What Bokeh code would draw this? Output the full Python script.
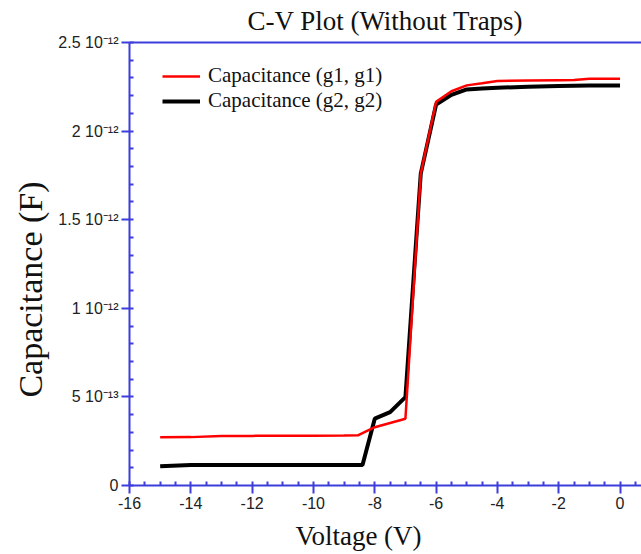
from bokeh.plotting import figure
from bokeh.models import (LinearAxis, SingleIntervalTicker, FixedTicker, CustomJSTickFormatter,
                          Legend, LegendItem, Range1d)
from bokeh.embed import file_html
from bokeh.resources import INLINE

# Data (Voltage in V, Capacitance in F)
v_g1 = [-15, -14, -13, -12, -11, -10, -9, -8.55, -8, -7.5, -7, -6.5, -6, -5.5, -5, -4.5, -4, -3, -2, -1.5, -1, 0]
c_g1 = [0.272e-12, 0.273e-12, 0.280e-12, 0.280e-12, 0.281e-12, 0.281e-12, 0.282e-12, 0.283e-12,
        0.329e-12, 0.353e-12, 0.377e-12, 1.76e-12, 2.165e-12, 2.225e-12, 2.258e-12, 2.27e-12,
        2.283e-12, 2.285e-12, 2.287e-12, 2.288e-12, 2.295e-12, 2.295e-12]

v_g2 = [-15, -14, -13, -12, -11, -10, -9, -8.4, -8, -7.5, -7, -6.5, -6, -5.5, -5, -4.5, -4, -3, -2, -1, 0]
c_g2 = [0.108e-12, 0.116e-12, 0.116e-12, 0.116e-12, 0.116e-12, 0.116e-12, 0.116e-12, 0.116e-12,
        0.377e-12, 0.414e-12, 0.499e-12, 1.76e-12, 2.15e-12, 2.205e-12, 2.235e-12, 2.24e-12,
        2.245e-12, 2.25e-12, 2.255e-12, 2.257e-12, 2.257e-12]

labels = ["Capacitance (g1, g1)", "Capacitance (g2, g2)"]
title = "C-V Plot (Without Traps)"
x_label = "Voltage (V)"
y_label = "Capacitance (F)"

AXIS = "#3d3ddb"
SERIF = "Liberation Serif"
SANS = "Liberation Sans"
NB = "\u00a0"

p = figure(width=641, height=554, output_backend="svg", toolbar_location=None,
           x_range=Range1d(-16, 0.7), y_range=Range1d(0, 2.5e-12),
           x_axis_type=None, y_axis_type=None,
           min_border_left=129, min_border_right=0, min_border_top=42, min_border_bottom=69)
p.outline_line_color = None
p.grid.visible = False
p.background_fill_color = "white"

p.title.text = title
p.title.text_font = SERIF
p.title.text_font_style = "normal"
p.title.text_font_size = "27px"
p.title.align = "center"
p.title.vertical_align = "top"
p.title.text_color = "#111111"
p.title.standoff = 10

yfmt = CustomJSTickFormatter(code="""
    if (Math.abs(tick) < 1e-20) return "0";
    const e = Math.floor(Math.log10(Math.abs(tick)) + 1e-9);
    const m = Math.round(tick / Math.pow(10, e) * 10) / 10;
    const sup = {"-":"\u207b","0":"\u2070","1":"\u00b9","2":"\u00b2","3":"\u00b3","4":"\u2074",
                 "5":"\u2075","6":"\u2076","7":"\u2077","8":"\u2078","9":"\u2079"};
    return m + " 10" + String(e).split("").map(c => sup[c]).join("");
""")
xfmt = CustomJSTickFormatter(code="return String(Math.round(tick));")

def style(ax):
    ax.axis_line_color = AXIS
    ax.axis_line_width = 2
    ax.major_tick_line_color = AXIS
    ax.minor_tick_line_color = AXIS
    ax.major_tick_line_width = 2
    ax.minor_tick_line_width = 2
    ax.major_tick_out = 8
    ax.major_tick_in = 0
    ax.minor_tick_out = 0
    ax.minor_tick_in = 4
    ax.major_label_text_font = SANS
    ax.major_label_text_font_size = "16px"
    ax.major_label_text_color = "#222222"
    ax.axis_label_text_font = SERIF
    ax.axis_label_text_font_style = "normal"
    ax.axis_label_text_color = "#111111"

xaxis = LinearAxis(ticker=SingleIntervalTicker(interval=2, num_minor_ticks=4), formatter=xfmt)
style(xaxis)
xaxis.major_label_standoff = 3
xaxis.axis_label = x_label + NB * 8
xaxis.axis_label_text_font_size = "27px"
xaxis.axis_label_standoff = 9
p.add_layout(xaxis, "below")

yaxis = LinearAxis(ticker=SingleIntervalTicker(interval=5e-13, num_minor_ticks=5), formatter=yfmt)
style(yaxis)
yaxis.major_label_standoff = 3
yaxis.axis_label = y_label + NB * 6
yaxis.axis_label_text_font_size = "34px"
yaxis.axis_label_standoff = 6
p.add_layout(yaxis, "left")

top = LinearAxis(ticker=FixedTicker(ticks=[]))
top.axis_line_color = AXIS
top.axis_line_width = 2
top.major_tick_out = 0
top.minor_tick_out = 0
top.major_label_text_font_size = "0px"
p.add_layout(top, "above")

r2 = p.line(v_g2, c_g2, line_color="black", line_width=4)
r1 = p.line(v_g1, c_g1, line_color="#ff0000", line_width=2.5)

legend = Legend(items=[LegendItem(label=labels[0], renderers=[r1]),
                       LegendItem(label=labels[1], renderers=[r2])],
                location=(33, 372))
legend.border_line_alpha = 0
legend.background_fill_alpha = 0
legend.label_text_font = SERIF
legend.label_text_font_size = "21px"
legend.label_text_line_height = 1.0
legend.label_text_color = "#111111"
legend.glyph_width = 38
legend.glyph_height = 22
legend.label_height = 22
legend.label_standoff = 8
legend.spacing = -2
legend.padding = 0
legend.margin = 0
p.add_layout(legend, "center")

open("out.html", "w").write(file_html(p, INLINE))
